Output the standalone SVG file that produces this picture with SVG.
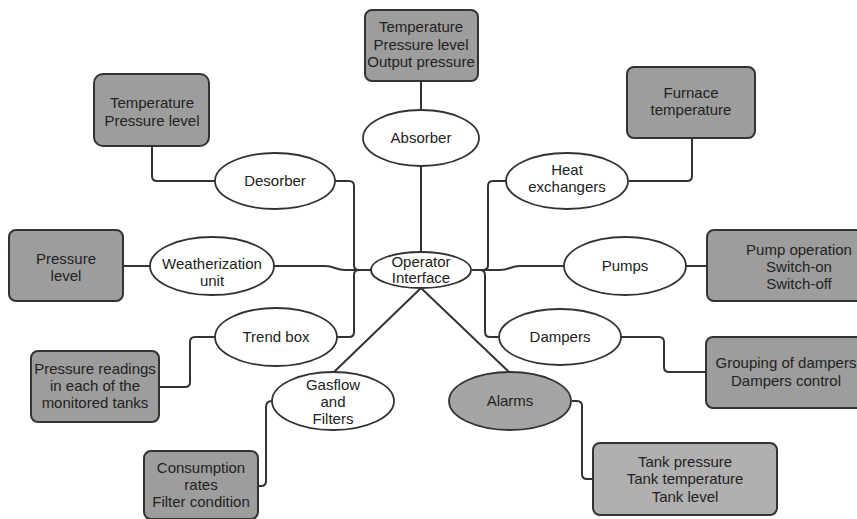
<svg xmlns="http://www.w3.org/2000/svg" width="857" height="519" viewBox="0 0 857 519">
  <style>
    .box { fill: #9d9d9d; stroke: #333; stroke-width: 2; }
    .box.light { fill: #b0b0b0; }
    .oval { fill: #fff; stroke: #333; stroke-width: 1.8; }
    .oval.alarm { fill: #a4a4a4; }
    .link { fill: none; stroke: #333; stroke-width: 2; stroke-linejoin: round; }
    text { font-family: "Liberation Sans", Arial, sans-serif; font-size: 15px; fill: #222; text-anchor: middle; }
  </style>
  <rect width="857" height="519" fill="#fff"/>

  <!-- connectors -->
  <g id="connectors">
    <path class="link" d="M421,81 V110"/>
    <path class="link" d="M421,166 V252"/>
    <!-- left hub -->
    <path class="link" d="M335,181 H349 Q354,181 354,186 V265 Q354,270 359,270 H371"/>
    <path class="link" d="M337,337 H349 Q354,337 354,332 V275 Q354,270 359,270"/>
    <path class="link" d="M273,266 H325 C335,266 335,270 345,270 H371"/>
    <!-- right hub -->
    <path class="link" d="M506,181 H493 Q488,181 488,186 V265 Q488,270 483,270 H472"/>
    <path class="link" d="M499,337 H490 Q485,337 485,332 V275 Q485,270 480,270"/>
    <path class="link" d="M564,266 H520 C510,266 510,270 500,270 H472"/>
    <!-- diagonals -->
    <path class="link" d="M421,288 L334,372"/>
    <path class="link" d="M421,288 L509,372"/>
    <!-- outer leaves -->
    <path class="link" d="M152,146 V176 Q152,181 157,181 H215"/>
    <path class="link" d="M150,266 H123"/>
    <path class="link" d="M215,337 H195 Q190,337 190,342 V382 Q190,387 185,387 H159"/>
    <path class="link" d="M272,401 Q266,401 266,407 V481 Q266,486 261,486 H258"/>
    <path class="link" d="M629,181 H687 Q692,181 692,176 V138"/>
    <path class="link" d="M685,266 H707"/>
    <path class="link" d="M620,337 H659 Q664,337 664,342 V367 Q664,372 669,372 H706"/>
    <path class="link" d="M572,401 H577 Q582,401 582,406 V474 Q582,479 587,479 H593"/>
  </g>

  <!-- centre -->
  <g id="operator-interface">
    <ellipse class="oval" cx="421" cy="270" rx="50" ry="18"/>
    <text x="421" y="267">Operator</text>
    <text x="421" y="283">Interface</text>
  </g>

  <!-- subsystems -->
  <g id="absorber">
    <ellipse class="oval" cx="421" cy="138" rx="58" ry="28"/>
    <text x="421" y="143">Absorber</text>
  </g>
  <g id="desorber">
    <ellipse class="oval" cx="275" cy="181" rx="60" ry="28"/>
    <text x="275" y="186">Desorber</text>
  </g>
  <g id="heat-exchangers">
    <ellipse class="oval" cx="567" cy="181" rx="61" ry="28"/>
    <text x="567" y="175">Heat</text>
    <text x="567" y="192">exchangers</text>
  </g>
  <g id="weatherization">
    <ellipse class="oval" cx="212" cy="266" rx="62" ry="29"/>
    <text x="212" y="269">Weatherization</text>
    <text x="212" y="286">unit</text>
  </g>
  <g id="pumps">
    <ellipse class="oval" cx="625" cy="266" rx="61" ry="29"/>
    <text x="625" y="271">Pumps</text>
  </g>
  <g id="trend-box">
    <ellipse class="oval" cx="276" cy="337" rx="61" ry="29"/>
    <text x="276" y="342">Trend box</text>
  </g>
  <g id="dampers">
    <ellipse class="oval" cx="560" cy="337" rx="61" ry="28"/>
    <text x="560" y="342">Dampers</text>
  </g>
  <g id="gasflow">
    <ellipse class="oval" cx="333" cy="401" rx="61" ry="29"/>
    <text x="333" y="390">Gasflow</text>
    <text x="333" y="407">and</text>
    <text x="333" y="424">Filters</text>
  </g>
  <g id="alarms">
    <ellipse class="oval alarm" cx="510" cy="401" rx="61" ry="29"/>
    <text x="510" y="406">Alarms</text>
  </g>

  <!-- monitored values -->
  <g id="absorber-values">
    <rect class="box" x="365" y="10" width="113" height="71" rx="7"/>
    <text x="421" y="32">Temperature</text>
    <text x="421" y="50">Pressure level</text>
    <text x="421" y="67">Output pressure</text>
  </g>
  <g id="desorber-values">
    <rect class="box" x="94" y="74" width="115" height="72" rx="9"/>
    <text x="152" y="108">Temperature</text>
    <text x="152" y="126">Pressure level</text>
  </g>
  <g id="furnace-values">
    <rect class="box" x="627" y="67" width="128" height="71" rx="7"/>
    <text x="691" y="98">Furnace</text>
    <text x="691" y="115">temperature</text>
  </g>
  <g id="weatherization-values">
    <rect class="box" x="9" y="230" width="114" height="71" rx="7"/>
    <text x="66" y="264">Pressure</text>
    <text x="66" y="281">level</text>
  </g>
  <g id="pump-values">
    <rect class="box" x="707" y="230" width="160" height="71" rx="7"/>
    <text x="799" y="255">Pump operation</text>
    <text x="799" y="272">Switch-on</text>
    <text x="799" y="289">Switch-off</text>
  </g>
  <g id="damper-values">
    <rect class="box" x="706" y="337" width="160" height="71" rx="7"/>
    <text x="786" y="368">Grouping of dampers</text>
    <text x="786" y="386">Dampers control</text>
  </g>
  <g id="trend-values">
    <rect class="box" x="31" y="351" width="128" height="71" rx="7"/>
    <text x="95" y="374">Pressure readings</text>
    <text x="95" y="391">in each of the</text>
    <text x="95" y="408">monitored tanks</text>
  </g>
  <g id="gasflow-values">
    <rect class="box" x="144" y="451" width="114" height="68" rx="7"/>
    <text x="201" y="473">Consumption</text>
    <text x="201" y="490">rates</text>
    <text x="201" y="507">Filter condition</text>
  </g>
  <g id="alarm-values">
    <rect class="box light" x="593" y="443" width="184" height="72" rx="7"/>
    <text x="685" y="467">Tank pressure</text>
    <text x="685" y="484">Tank temperature</text>
    <text x="685" y="502">Tank level</text>
  </g>
</svg>
